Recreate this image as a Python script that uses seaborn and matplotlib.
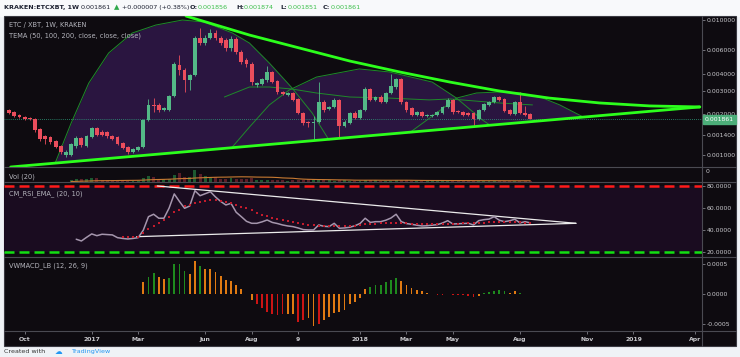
import numpy as np
import pandas as pd
import matplotlib
matplotlib.use("Agg")
import matplotlib.pyplot as plt
from matplotlib.patches import Rectangle
from matplotlib.lines import Line2D
from matplotlib.ticker import NullLocator
import seaborn as sns

# ---- weekly ETC/XBT candles (values in mBTC), first week 2016-09-12 ----
first_week = "2016-09-12"
opens = [2.15, 2.08, 1.98, 1.91, 1.88, 1.85, 1.56, 1.38, 1.36, 1.27, 1.17, 1.00, 1.00, 1.17, 1.34, 1.17,
         1.36, 1.58, 1.48, 1.48, 1.38, 1.36, 1.23, 1.15, 1.05, 1.09, 1.15, 1.82, 2.35, 2.35, 2.15, 2.15,
         2.74, 4.64, 4.26, 3.59, 3.91, 7.36, 6.75, 7.36, 8.01, 7.36, 7.11, 6.20, 7.23, 5.79, 5.05, 4.72,
         3.30, 3.36, 3.59, 4.12, 3.53, 2.93, 2.78, 2.88, 2.60, 2.05, 1.76, 1.72, 1.76, 2.47, 2.19, 2.27,
         2.56, 1.64, 1.72, 2.05, 1.88, 2.15, 3.08, 2.56, 2.69, 2.47, 2.88, 3.19, 3.66, 2.47, 2.23, 1.98,
         2.08, 1.94, 1.95, 1.98, 2.05, 2.27, 2.56, 2.12, 2.08, 2.05, 2.05, 1.85, 2.15, 2.35, 2.47, 2.69,
         2.60, 2.15, 2.01, 2.47, 2.05, 2.01]
highs = [2.19, 2.12, 2.01, 1.94, 1.91, 1.88, 1.58, 1.41, 1.38, 1.29, 1.19, 1.09, 1.23, 1.38, 1.36, 1.41,
         1.62, 1.60, 1.52, 1.50, 1.41, 1.38, 1.25, 1.17, 1.13, 1.17, 1.86, 2.60, 2.65, 2.43, 2.27, 2.80,
         4.90, 5.50, 4.40, 4.00, 7.60, 8.80, 7.80, 8.60, 8.50, 7.60, 7.30, 7.60, 7.50, 6.00, 5.20, 4.90,
         3.50, 3.75, 4.60, 4.20, 3.60, 2.98, 2.95, 2.93, 2.65, 2.08, 1.78, 1.95, 3.47, 2.56, 2.31, 2.65,
         2.60, 1.82, 2.10, 2.12, 2.19, 3.20, 3.15, 2.74, 2.76, 2.93, 4.00, 3.75, 3.75, 2.52, 2.27, 2.12,
         2.12, 2.01, 2.01, 2.12, 2.31, 2.65, 2.60, 2.15, 2.12, 2.08, 2.08, 2.19, 2.43, 2.52, 2.74, 2.74,
         2.65, 2.19, 2.52, 2.93, 2.31, 2.03]
lows = [2.01, 1.91, 1.88, 1.82, 1.82, 1.48, 1.27, 1.21, 1.21, 1.13, 1.02, 0.97, 0.98, 1.13, 1.15, 1.15,
        1.34, 1.38, 1.38, 1.34, 1.29, 1.19, 1.11, 1.02, 1.03, 1.07, 1.13, 1.79, 2.10, 2.10, 2.12, 2.12,
        2.70, 3.90, 2.95, 3.05, 3.85, 6.50, 6.50, 7.20, 7.10, 6.50, 5.90, 5.90, 5.60, 4.70, 4.50, 3.30,
        3.20, 3.30, 3.50, 3.40, 2.85, 2.78, 2.74, 2.52, 2.00, 1.68, 1.62, 1.29, 1.72, 2.10, 2.15, 2.23,
        1.34, 1.60, 1.70, 1.85, 1.85, 2.12, 2.50, 2.50, 2.43, 2.43, 2.85, 3.10, 2.40, 2.08, 1.94, 1.94,
        1.91, 1.91, 1.92, 1.95, 2.01, 2.23, 2.01, 2.03, 1.94, 1.94, 1.64, 1.82, 2.12, 2.31, 2.43, 2.52,
        2.08, 1.98, 1.98, 2.01, 1.94, 1.84]
closes = [2.05, 1.94, 1.91, 1.85, 1.85, 1.53, 1.31, 1.31, 1.25, 1.15, 1.05, 1.05, 1.21, 1.34, 1.19, 1.38,
          1.58, 1.41, 1.41, 1.38, 1.31, 1.21, 1.13, 1.05, 1.11, 1.15, 1.82, 2.35, 2.31, 2.15, 2.23, 2.74,
          4.72, 4.26, 3.59, 3.91, 7.36, 6.75, 7.36, 8.01, 7.36, 6.75, 6.20, 7.23, 5.79, 4.89, 4.72, 3.47,
          3.41, 3.66, 4.12, 3.47, 2.93, 2.83, 2.88, 2.56, 2.05, 1.72, 1.72, 1.76, 2.47, 2.15, 2.27, 2.56,
          1.64, 1.76, 2.05, 1.88, 2.15, 3.08, 2.56, 2.69, 2.47, 2.88, 3.24, 3.66, 2.47, 2.15, 1.98, 2.08,
          1.94, 1.98, 1.98, 2.08, 2.27, 2.56, 2.08, 2.08, 1.98, 1.98, 1.85, 2.15, 2.39, 2.47, 2.69, 2.56,
          2.12, 2.01, 2.47, 2.05, 1.98, 1.861]
last_price = 1.861

volume = [2, 2, 2, 2, 2, 2, 2, 2, 2, 2, 2, 2,
          14, 18, 22, 16, 24, 26, 15, 12, 10, 9, 11, 9, 8, 9,
          24, 38, 30, 20, 18, 22, 44, 58, 34, 30, 78, 52, 40, 34, 30,
          22, 18, 24, 22, 20, 18, 26, 13, 11, 12, 10, 14, 10, 9, 10, 12, 10, 16, 18, 15,
          14, 10, 9, 10, 12, 9, 8, 9, 10, 14, 11, 9, 8, 9, 12, 11, 10, 9, 8, 8,
          8, 7, 8, 8, 9, 8, 7, 7, 8, 7, 9, 8, 8, 7, 8, 8, 9, 7, 7, 8, 6]
vol_first = 12

# RSI (from week 13) and its EMA (from week 22)
rsi_first = 13
rsi = [31.8, 30.2, 33.5, 36.6, 35.0, 36.3, 36.0, 35.7, 33.2, 32.5, 32.0, 32.5, 33.2, 40.0, 52.2, 54.4,
       50.8, 50.8, 60.0, 72.8, 66.0, 59.8, 61.9, 75.7, 71.2, 73.0, 74.8, 70.0, 66.0, 62.8, 64.3, 56.2,
       52.2, 48.0, 46.2, 46.2, 47.5, 49.2, 47.0, 46.0, 44.7, 43.8, 43.2, 42.0, 40.5, 40.2, 40.2, 44.7,
       43.5, 43.2, 46.2, 41.7, 42.0, 42.6, 44.0, 46.0, 50.8, 47.0, 47.7, 47.7, 49.0, 51.0, 54.4, 47.7,
       46.0, 45.3, 44.5, 43.8, 44.0, 44.5, 45.0, 46.5, 48.6, 45.6, 45.8, 46.0, 46.2, 44.7, 48.6, 49.5,
       50.0, 52.2, 49.0, 47.7, 48.5, 49.9, 46.6, 47.7, 46.6]
ema_first = 22
rsi_ema = [34.1, 34.0, 34.0, 34.1, 37.5, 40.8, 43.5, 46.2, 49.5, 52.2, 56.0, 58.3, 61.9, 63.2, 64.3, 65.5,
           66.5, 67.0, 67.3, 66.8, 65.8, 64.5, 62.8, 61.3, 59.8, 57.8, 55.8, 53.8, 52.5, 51.3, 50.2, 49.2,
           48.2, 47.3, 46.5, 45.6, 45.0, 44.3, 44.1, 44.0, 43.8, 43.8, 43.8, 43.8, 43.8, 44.2, 44.6, 45.2,
           45.6, 46.0, 46.3, 46.6, 46.8, 46.8, 46.4, 46.2, 46.0, 45.9, 45.8, 45.7, 45.6, 45.6, 45.7, 45.8,
           45.9, 46.0, 46.1, 46.2, 46.4, 46.6, 46.8, 47.0, 47.3, 47.7, 47.6, 47.4, 47.2, 47.0, 46.8, 46.6]

# VWMACD histogram (from week 26); g = rising above 0, o = fading, r = falling below 0
macd_first = 26
macd = [0.00021, 0.000293, 0.00035, 0.000293, 0.00025, 0.000277, 0.000505, 0.000505, 0.000394, 0.000333,
        0.000555, 0.000477, 0.000422, 0.000422, 0.000377, 0.00031, 0.000238, 0.000227, 0.00016, 0.000083,
        0.000005, -0.000095, -0.000167, -0.000233, -0.00029, -0.000333, -0.00035, -0.000333, -0.00032,
        -0.000333, -0.000457, -0.000428, -0.0004, -0.000528, -0.000495, -0.000428, -0.000373, -0.000317,
        -0.000288, -0.000262, -0.000167, -0.00013, -0.000055, 0.000083, 0.000127, 0.000155, 0.000155,
        0.0002, 0.000238, 0.000277, 0.000222, 0.000155, 0.00011, 0.000072, 0.00005, 0.000022, 0.00001,
        -0.000005, -0.000008, 0.000005, -0.00001, -0.000017, -0.000017, -0.00002, -0.000038, -0.00002,
        0.000017, 0.000033, 0.00006, 0.000072, 0.000055, 0.000028, 0.000055, 0.000028, 0.00001, 0.000005]
macd_colors = "oggooggggoogoooooooooorrrrrroorrooroooooooooggggggooooooorrgrrrrrogggggoogoo"

# drawn lines on the price pane (dates, mBTC)
upper_dates = ["2017-05-10", "2017-08-04", "2017-10-11", "2017-12-18", "2018-02-24", "2018-05-03",
               "2018-07-09", "2018-09-15", "2018-11-22", "2019-01-29", "2019-04-07"]
upper_price = [10.7, 7.74, 6.20, 4.97, 4.12, 3.47, 2.98, 2.64, 2.43, 2.31, 2.27]
lower_dates = ["2016-09-14", "2019-04-07"]
lower_price = [0.815, 2.27]

tema_a_dates = ["2016-11-14", "2016-12-05", "2016-12-29", "2017-01-25", "2017-02-26", "2017-03-30",
                "2017-05-05", "2017-06-04", "2017-07-12", "2017-08-04", "2017-08-31", "2017-10-01",
                "2017-10-28", "2017-11-20"]
tema_a_price = [0.887, 1.72, 3.41, 5.70, 8.01, 9.18, 10.0, 9.66, 8.01, 6.75, 4.80, 3.13, 2.05, 1.29]
tema_b_dates = ["2017-07-01", "2017-08-04", "2017-08-31", "2017-10-01", "2017-11-03", "2017-12-18",
                "2018-02-10", "2018-04-05", "2018-05-03", "2018-07-09", "2018-08-23"]
tema_b_price = [2.69, 3.19, 3.19, 3.08, 2.88, 2.69, 2.64, 2.56, 2.60, 2.43, 2.35]
tema_c_dates = ["2017-07-12", "2017-08-04", "2017-08-31", "2017-09-27", "2017-11-03", "2017-12-31",
                "2018-02-10", "2018-04-09", "2018-05-12", "2018-06-16", "2018-06-26"]
tema_c_price = [1.15, 1.61, 2.35, 3.03, 3.78, 4.34, 4.12, 3.47, 2.64, 1.82, 1.67]
tema_d_dates = ["2018-03-09", "2018-04-15", "2018-05-12", "2018-06-08", "2018-07-09", "2018-08-06",
                "2018-09-06", "2018-09-29", "2018-10-31"]
tema_d_price = [1.46, 2.05, 2.64, 2.88, 2.93, 2.88, 2.64, 2.35, 1.91]

rsi_upper_dates = ["2017-04-01", "2018-10-21"]
rsi_upper = [80.0, 46.2]
rsi_lower_dates = ["2017-03-04", "2018-10-21"]
rsi_lower = [34.1, 46.2]

price_ticks = [10.0, 6.0, 4.0, 3.0, 2.0, 1.4, 1.0]
rsi_ticks = [80, 60, 40, 20]
macd_ticks = [0.0005, 0.0, -0.0005]
time_ticks = ["2016-10-03", "2017-01-02", "2017-03-06", "2017-06-05", "2017-08-07", "2017-10-09",
              "2018-01-01", "2018-03-05", "2018-05-07", "2018-08-06", "2018-11-05", "2019-01-07",
              "2019-04-01"]
time_labels = ["Oct", "2017", "Mar", "Jun", "Aug", "9", "2018", "Mar", "May", "Aug", "Nov", "2019", "Apr"]

BASE = pd.Timestamp("2017-01-01")


def days(d):
    return np.asarray((pd.to_datetime(d) - BASE).days, dtype=float)


sns.set_style("dark", {"axes.facecolor": "none", "figure.facecolor": "#f1f3f6"})
plt.rcParams["font.family"] = ["DejaVu Sans"]

W, H = 740, 357
fig = plt.figure(figsize=(W / 100, H / 100), dpi=100)
fig.patch.set_facecolor("#eff2f6")


def box(x0, y0, x1, y1):
    return [x0 / W, 1 - y1 / H, (x1 - x0) / W, (y1 - y0) / H]


def fx(x):
    return x / W


def fy(y):
    return 1 - y / H


BG = "#0e0b10"
GRID = "#4a4a52"
TXT = "#c8c8cc"

fig.add_artist(Rectangle((0, fy(16)), 1, 16 / H, transform=fig.transFigure, color="#f8f9fb", zorder=-2))
fig.add_artist(Rectangle((fx(4), fy(346)), 732 / W, 330 / H, transform=fig.transFigure,
                         facecolor=BG, edgecolor="#3a3a42", lw=0.8, zorder=-1))

ax_main = fig.add_axes(box(4, 16, 702, 167))
ax_vol = fig.add_axes(box(4, 167, 702, 182))
ax_rsi = fig.add_axes(box(4, 182, 702, 257))
ax_macd = fig.add_axes(box(4, 257, 702, 331))

xd = days(pd.date_range(first_week, periods=len(opens), freq="7D"))
xlim = (days("2016-09-05"), days("2019-04-10"))

for ax in (ax_main, ax_vol, ax_rsi, ax_macd):
    ax.set_xlim(*xlim)
    for s in ax.spines.values():
        s.set_visible(False)
    ax.yaxis.tick_right()
    ax.tick_params(axis="y", which="both", direction="out", length=2.2, width=0.6, color="#808088",
                   labelsize=4.4, labelcolor=TXT, pad=1.2, right=True, left=False)
    ax.tick_params(axis="x", bottom=False, labelbottom=False)
    ax.grid(False)

# ---- price pane ----
ax_main.set_yscale("log")
ax_main.set_ylim(0.815, 10.71)
ax_main.yaxis.set_minor_locator(NullLocator())
ax_main.set_yticks(price_ticks)
ax_main.set_yticklabels([f"{v / 1000:.6f}" for v in price_ticks])

lx = days(lower_dates)
ll = np.log10(lower_price)
for dts, prc in [(tema_a_dates, tema_a_price), (tema_c_dates, tema_c_price), (tema_d_dates, tema_d_price)]:
    d = days(dts)
    base_line = 10 ** np.interp(d, lx, ll)
    ax_main.fill_between(d, base_line, prc, where=np.array(prc) > base_line, color="#2a1540",
                         lw=0, zorder=1, interpolate=True)
for dts, prc in [(tema_a_dates, tema_a_price), (tema_b_dates, tema_b_price),
                 (tema_c_dates, tema_c_price), (tema_d_dates, tema_d_price)]:
    sns.lineplot(x=days(dts), y=prc, ax=ax_main, color="#1f8a2a", linewidth=0.7, zorder=2)

o = np.array(opens)
c = np.array(closes)
up = c >= o
ccol = np.where(up, "#53b987", "#eb4d5c")
ax_main.vlines(xd, lows, highs, colors=ccol, lw=0.6, zorder=3)
bottom = np.minimum(o, c)
height = np.maximum(np.abs(c - o), bottom * 0.012)
ax_main.bar(xd, height, bottom=bottom, width=5.2, color=ccol, lw=0, zorder=4)

ax_main.axhline(last_price, color="#2f9e7c", lw=0.6, ls=(0, (1, 1.5)), zorder=2)

sns.lineplot(x=days(upper_dates), y=upper_price, ax=ax_main, color="#2cff1c", linewidth=2.0, zorder=5)
sns.lineplot(x=lx, y=lower_price, ax=ax_main, color="#2cff1c", linewidth=2.0, zorder=5)

# ---- volume pane ----
vx = xd[vol_first:]
vv = np.array(volume[vol_first:])
vcol = np.where(up[vol_first:], "#1d5a30", "#5a1e28")
ax_vol.bar(vx, vv, width=4.0, color=vcol, lw=0)
vma = pd.Series(volume).rolling(20, min_periods=1).mean().values[vol_first:]
ax_vol.plot(vx, vma, color="#c87a32", lw=0.8)
ax_vol.set_ylim(0, 95)
ax_vol.set_yticks([])

# ---- RSI pane ----
ax_rsi.set_ylim(15.7, 83.6)
ax_rsi.axhspan(20, 80, color="#1a0c20", lw=0, zorder=0)
ax_rsi.axhline(80, color="#ff1a1a", lw=1.8, ls=(0, (4, 2)), zorder=1)
ax_rsi.axhline(20, color="#12e012", lw=1.8, ls=(0, (4, 2)), zorder=1)
sns.lineplot(x=xd[rsi_first:], y=rsi, ax=ax_rsi, color="#a596ad", linewidth=1.1, zorder=3)
sns.scatterplot(x=xd[ema_first:], y=rsi_ema, ax=ax_rsi, color="#c21b2c", s=3, marker="s",
                linewidth=0, zorder=4)
sns.lineplot(x=days(rsi_upper_dates), y=rsi_upper, ax=ax_rsi, color="#ececec", linewidth=0.9, zorder=2)
sns.lineplot(x=days(rsi_lower_dates), y=rsi_lower, ax=ax_rsi, color="#ececec", linewidth=0.9, zorder=2)
ax_rsi.set_yticks(rsi_ticks)
ax_rsi.set_yticklabels([f"{v:.4f}" for v in rsi_ticks])

# ---- VWMACD pane ----
mcol = {"g": "#1e8a1e", "o": "#e07a12", "r": "#cc1414"}
ax_macd.bar(xd[macd_first:], macd, width=2.4, color=[mcol[k] for k in macd_colors], lw=0)
ax_macd.set_ylim(-0.00061, 0.00062)
ax_macd.set_yticks(macd_ticks)
ax_macd.set_yticklabels([f"{v:.4f}" for v in macd_ticks])
ax_macd.set_xticks(days(time_ticks))
ax_macd.set_xticklabels(time_labels)
ax_macd.tick_params(axis="x", bottom=True, labelbottom=True, direction="out", length=2, width=0.6,
                    color="#808088", labelsize=4.4, labelcolor=TXT, pad=2.5)
for t in ax_macd.get_xticklabels():
    t.set_fontweight("bold")

# ---- separators ----
for y in (167, 182, 257, 331):
    fig.add_artist(Line2D([fx(4), fx(736)], [fy(y), fy(y)], transform=fig.transFigure, color=GRID, lw=0.8))
fig.add_artist(Line2D([fx(702), fx(702)], [fy(16), fy(346)], transform=fig.transFigure, color=GRID, lw=0.8))

# current price tag
fig.add_artist(Rectangle((fx(702.5), fy(124)), 33 / W, 9 / H, transform=fig.transFigure,
                         color="#4cae79", zorder=6))
fig.text(fx(719), fy(119.5), f"{last_price / 1000:.6f}", color="white", fontsize=4.4,
         ha="center", va="center", zorder=7)
fig.text(fx(706), fy(171), "0", color=TXT, fontsize=4.4, ha="left", va="center")

# ---- header & legends ----
hy = fy(7.5)
dark = "#1c2030"
green = "#3cbf4a"
fig.text(fx(4), hy, "KRAKEN:ETCXBT, 1W", color=dark, fontsize=4.6, fontweight="bold", va="center")
fig.text(fx(81), hy, "0.001861", color=dark, fontsize=4.6, va="center")
fig.text(fx(114), hy, "\u25B2", color="#2ea84a", fontsize=5, va="center")
fig.text(fx(122), hy, "+0.000007 (+0.38%)", color=dark, fontsize=4.6, va="center")
for lx_, lab, val in [(190, "O:", "0.001856"), (236, "H:", "0.001874"), (280, "L:", "0.001851"),
                      (323, "C:", "0.001861")]:
    fig.text(fx(lx_), hy, lab, color=dark, fontsize=4.6, fontweight="bold", va="center")
    fig.text(fx(lx_ + 7.5), hy, val, color=green, fontsize=4.6, va="center")

leg = "#b4b4bc"
fig.text(fx(9), fy(25.5), "ETC / XBT, 1W, KRAKEN", color=leg, fontsize=4.8, va="center")
fig.text(fx(9), fy(36), "TEMA (50, 100, 200, close, close, close)", color=leg, fontsize=4.8, va="center")
fig.text(fx(9), fy(176.5), "Vol (20)", color=leg, fontsize=4.8, va="center")
fig.text(fx(9), fy(194), "CM_RSI_EMA_ (20, 10)", color=leg, fontsize=4.8, va="center")
fig.text(fx(9), fy(266), "VWMACD_LB (12, 26, 9)", color=leg, fontsize=4.8, va="center")

fig.text(fx(4), fy(351.5), "Created with", color="#333", fontsize=4.6, va="center")
fig.text(fx(55), fy(351.5), "\u2601", color="#2196f3", fontsize=5.5, va="center")
fig.text(fx(71), fy(351.5), "TradingView", color="#2196f3", fontsize=4.6, va="center")

fig.savefig("out.png", dpi=100, facecolor=fig.get_facecolor())
